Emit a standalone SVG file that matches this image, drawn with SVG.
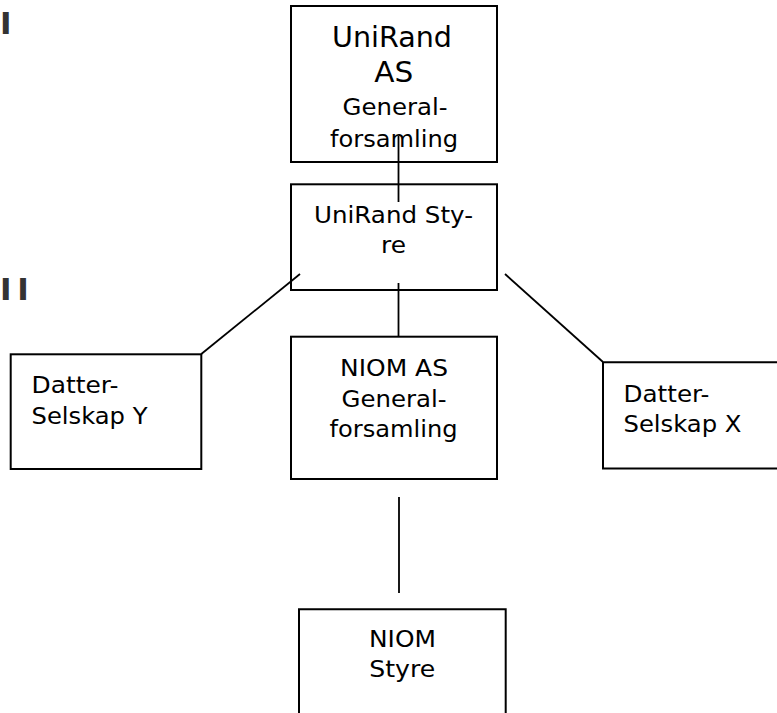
<svg xmlns="http://www.w3.org/2000/svg" width="777" height="713" viewBox="0 0 777 713">
  <style>
    .box { fill: #ffffff; stroke: #000000; stroke-width: 2; }
    .open { fill: none; stroke: #000000; stroke-width: 2; }
    .lbl { font-family: "DejaVu Sans", Verdana, sans-serif; font-size: 22.5px; fill: #000000; }
    .big { font-family: "DejaVu Sans", Verdana, sans-serif; font-size: 27.5px; fill: #000000; }
    .mid { text-anchor: middle; }
    .lvl { font-family: "DejaVu Sans", Verdana, sans-serif; font-size: 31px; font-weight: bold; fill: #333333; }
    .conn line { stroke: #000000; stroke-width: 1.8; }
  </style>

  <g id="level-marks">
    <text class="lvl" x="0" y="33.5">I</text>
    <text class="lvl" x="0 17.3" y="299.5">II</text>
  </g>

  <g id="unirand-as">
    <rect class="box" x="291" y="6" width="206" height="156"/>
    <text class="big mid" x="392" y="46.7" textLength="120" lengthAdjust="spacingAndGlyphs">UniRand</text>
    <text class="big mid" x="393.7" y="81.7" textLength="39" lengthAdjust="spacingAndGlyphs">AS</text>
    <text class="lbl mid" x="395" y="115" textLength="105" lengthAdjust="spacingAndGlyphs">General-</text>
    <text class="lbl mid" x="394" y="146.7" textLength="128" lengthAdjust="spacingAndGlyphs">forsamling</text>
  </g>

  <g id="unirand-styre">
    <rect class="box" x="291" y="184.3" width="206" height="105.7"/>
    <text class="lbl mid" x="393.5" y="222.7" textLength="159" lengthAdjust="spacingAndGlyphs">UniRand Sty-</text>
    <text class="lbl mid" x="393.5" y="253.3" textLength="25" lengthAdjust="spacingAndGlyphs">re</text>
  </g>

  <g id="datterselskap-y">
    <rect class="box" x="10.7" y="354.3" width="190.6" height="114.7"/>
    <text class="lbl" x="31.5" y="393.3" textLength="87" lengthAdjust="spacingAndGlyphs">Datter-</text>
    <text class="lbl" x="31.5" y="424" textLength="116" lengthAdjust="spacingAndGlyphs">Selskap Y</text>
  </g>

  <g id="niom-as">
    <rect class="box" x="291" y="336.7" width="206" height="142.3"/>
    <text class="lbl mid" x="394" y="375.5" textLength="108" lengthAdjust="spacingAndGlyphs">NIOM AS</text>
    <text class="lbl mid" x="394" y="406.7" textLength="105" lengthAdjust="spacingAndGlyphs">General-</text>
    <text class="lbl mid" x="393.5" y="437.2" textLength="128" lengthAdjust="spacingAndGlyphs">forsamling</text>
  </g>

  <g id="datterselskap-x">
    <path class="open" d="M 780 362.3 H 603 V 468.5 H 780"/>
    <text class="lbl" x="623.5" y="401.7" textLength="86" lengthAdjust="spacingAndGlyphs">Datter-</text>
    <text class="lbl" x="623.5" y="432.3" textLength="118" lengthAdjust="spacingAndGlyphs">Selskap X</text>
  </g>

  <g id="niom-styre">
    <path class="open" d="M 299 716 V 609.3 H 505.7 V 716"/>
    <text class="lbl mid" x="402.5" y="646.7" textLength="67" lengthAdjust="spacingAndGlyphs">NIOM</text>
    <text class="lbl mid" x="402.2" y="677.3" textLength="66" lengthAdjust="spacingAndGlyphs">Styre</text>
  </g>

  <g id="connectors" class="conn">
    <line x1="398.5" y1="136" x2="398.5" y2="202"/>
    <line x1="398.5" y1="283" x2="398.5" y2="337"/>
    <line x1="399" y1="497" x2="399" y2="593"/>
    <line x1="300" y1="274" x2="201.3" y2="354"/>
    <line x1="505" y1="274" x2="603" y2="362"/>
  </g>
</svg>
